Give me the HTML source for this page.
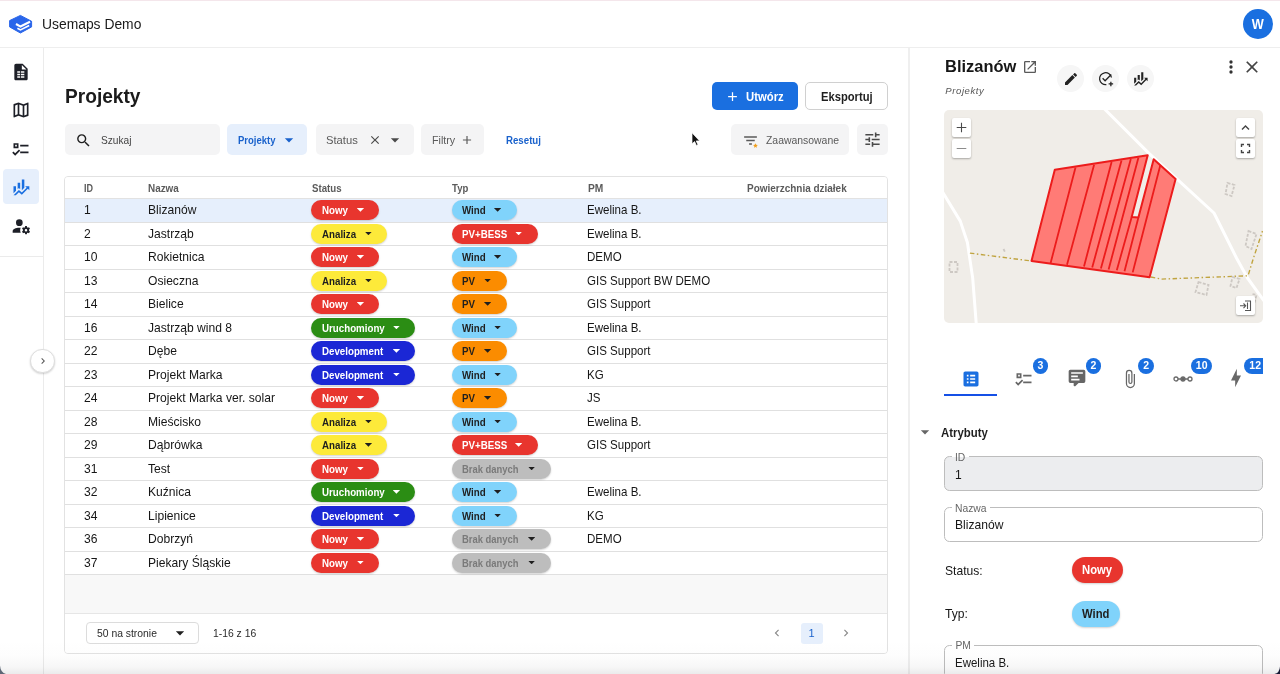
<!DOCTYPE html>
<html lang="pl">
<head>
<meta charset="utf-8">
<title>Usemaps Demo</title>
<style>
*{box-sizing:border-box;margin:0;padding:0}
html,body{width:1280px;height:674px;overflow:hidden;background:#fff}
body{font-family:"Liberation Sans",sans-serif;color:#1d1d1f;position:relative;font-size:13px}
.abs{position:absolute}
svg{display:block}
/* top bar */
#topline{left:0;top:0;width:1280px;height:1px;background:#f4e6eb}
#topbar{left:0;top:0;width:1280px;height:47.500px;border-bottom:1.500px solid #eeeeee;background:#fff}
#brand{left:41.800px;top:15px;font-size:14px;line-height:18px;color:#1a1a1a;white-space:nowrap;transform:scaleX(.99);transform-origin:0 0}
#avatar{left:1243px;top:8.900px;width:30.300px;height:30.300px;border-radius:50%;background:#1a6fe0;color:#fff;font-size:14.500px;font-weight:bold;line-height:30.300px;text-align:center}
#avatar em{font-style:normal;display:inline-block;transform:scaleX(.88)}
/* sidebar */
#side{left:0;top:48px;width:44px;height:626px;border-right:1px solid #ebebeb;background:#fff}
#sidediv{left:0;top:256px;width:44px;height:1px;background:#ebebeb}
#sideact{left:3px;top:169px;width:36px;height:35px;border-radius:4px;background:#e6effc}
.sic{left:11px;width:20px;height:20px}
#expand{left:30.400px;top:348.700px;width:24.600px;height:24.600px;border-radius:50%;background:#fff;border:1px solid #dedede;box-shadow:0 1px 2px rgba(0,0,0,.18)}
/* main */
#title{left:65px;top:84.300px;font-size:21px;line-height:24px;font-weight:bold;color:#1b1b1b;white-space:nowrap;transform:scaleX(.911);transform-origin:0 0}
.btn{top:82.300px;height:28px;border-radius:5px;font-size:12px;font-weight:bold;line-height:28px;white-space:nowrap}
#bcreate{left:712px;width:86px;background:#1a6fe0;color:#fff}
#bexport{left:805.300px;width:82.400px;background:#fff;border:1px solid #d0d0d0;color:#1f1f1f;line-height:26px}
.fchip{top:124px;height:31px;border-radius:5px;background:#f4f4f5;font-size:11px;line-height:31px;color:#5a5a5a;white-space:nowrap}
.fchip span{position:absolute;top:.5px;transform-origin:0 0}
.sx{transform-origin:0 0}
/* table */
#tbl{left:64px;top:176px;width:824px;height:478px;border:1px solid #e2e2e2;border-radius:4px;background:#f8f8f8;overflow:hidden}
#thead{left:0;top:0;width:822px;height:22px;background:#fff;border-bottom:1px solid #e2e2e2;font-size:11px;font-weight:bold;color:#5b5b5b;line-height:22px}
#thead span{position:absolute;top:0;white-space:nowrap;transform-origin:0 0}
.row{position:absolute;left:0;width:822px;height:23.500px;background:#fff;border-bottom:1px solid #e0e0e0;font-size:13px;line-height:23px;color:#161616}
.row.sel{background:#e6effc}
.row span{position:absolute;top:-.75px;white-space:nowrap;transform:scaleX(.93);transform-origin:0 0}
.c1{left:19px}.c2{left:83px}.row span.c5{left:522px;transform:scaleX(.888)}
.chip{position:absolute;top:1px;height:20px;border-radius:10px;font-size:11px;font-weight:bold;line-height:20px;padding-left:11px;white-space:nowrap;box-shadow:0 1px 2px rgba(0,0,0,.18)}
.chip em{font-style:normal;display:inline-block;transform:scaleX(.885);transform-origin:0 50%}
.chip i{position:absolute;right:14.900px;top:8px;width:7.400px;height:3.700px;background:currentColor;clip-path:polygon(0 0,100% 0,50% 100%)}
.s{left:246px}.t{left:387px;padding-left:10px}.t i{right:15.700px}
.nowy{background:#e8352e;color:#fff;width:68px}
.ana{background:#fdea3a;color:#1f1f1f;width:76px}
.uru{background:#2b8d14;color:#fff;width:104px}
.dev{background:#1b27d5;color:#fff;width:104px}
.wind{background:#80d3fb;color:#1f1f1f;width:65px}
.pvb{background:#e8352e;color:#fff;width:86px}
.pv{background:#fb8c00;color:#1f1f1f;width:55px}
.brak{background:#bdbdbd;color:#7a7a7a;width:99px}
.brak em{transform:scaleX(.856)}
.brak i{background:#1f1f1f}
.ft{font-size:11px;line-height:19px;white-space:nowrap;color:#2a2a2a;transform:scaleX(.942);transform-origin:0 0}
#tfoot{left:0;top:436px;width:822px;height:41px;background:#fff;border-top:1px solid #e6e6e6;font-size:11px;color:#333}
/* right panel */
#panel{left:908px;top:48px;width:372px;height:626px;background:#fff;border-left:2px solid #efefef}
#ptitle{left:945.300px;top:56.300px;font-size:17px;font-weight:bold;line-height:22px;color:#161616;white-space:nowrap;transform:scaleX(.968);transform-origin:0 0}
#psub{left:945.300px;top:84.300px;font-size:9.500px;font-style:italic;color:#555;line-height:14px;letter-spacing:.6px;white-space:nowrap}
.rbtn{top:65.300px;width:27px;height:27px;border-radius:50%;background:#f6f6f6}
#map{left:944px;top:110px;width:319px;height:212.500px;border-radius:5px;background:#f0ede8;overflow:hidden}
.mbtn{width:19px;height:19px;background:#fff;border-radius:2px;box-shadow:0 1px 2px rgba(0,0,0,.3)}
.badge{height:15.600px;min-width:15.600px;border-radius:8px;background:#1a6fe0;color:#fff;font-size:10.500px;font-weight:bold;line-height:15.600px;text-align:center;padding:0 4px}
.field{left:944.300px;width:319px;border:1px solid #bdbdbd;border-radius:5.500px}
.flabel{font-size:10.300px;color:#666;background:#fff;line-height:10px;padding:0 3.500px;white-space:nowrap}
.fval{font-size:13px;color:#161616;line-height:16px;white-space:nowrap;transform:scaleX(.93);transform-origin:0 0}
.pchip{height:26px;border-radius:13px;font-size:13px;font-weight:bold;line-height:26px;padding-left:10px;white-space:nowrap;box-shadow:0 1px 2px rgba(0,0,0,.18)}
.pchip em{font-style:normal;display:inline-block;transform:scaleX(.868);transform-origin:0 50%}
#fade{left:0;top:640px;width:1280px;height:34px;background:linear-gradient(to bottom,rgba(90,90,95,0) 0%,rgba(90,90,95,.012) 45%,rgba(90,90,95,.05) 80%,rgba(90,90,95,.12) 100%);pointer-events:none}
</style>
</head>
<body>
<div id="topbar" class="abs"></div>
<div id="topline" class="abs"></div>
<svg class="abs" style="left:4px;top:8px;width:40px;height:32px" viewBox="0 0 40 32"><path fill="#2a66ea" stroke="#2a66ea" stroke-width="1" stroke-linejoin="round" d="M16.400 7.400L27.600 13.300V18.900L16.400 25L5.600 18.900V12.600Z"/><path fill="none" stroke="#fff" stroke-width="2.200" d="M12 16L16.500 18.600L26 13.800"/><path fill="none" stroke="#fff" stroke-width="1.700" d="M13.400 20.200L16.500 21.900L25.200 17.600"/></svg>
<div id="brand" class="abs">Usemaps Demo</div>
<div id="avatar" class="abs"><em>W</em></div>
<div id="side" class="abs"></div>
<div id="sidediv" class="abs"></div>
<div id="sideact" class="abs"></div>
<div id="expand" class="abs"></div>

<svg class="abs sic" style="top:61.5px" viewBox="0 0 24 24"><path fill="#1d1f27" d="M14 2H6C4.89 2 4 2.9 4 4V20C4 21.11 4.89 22 6 22H18C19.11 22 20 21.11 20 20V8L14 2M11 19H7.5V17H11V19M11 16H7.5V14H11V16M11 13H7.5V11H11V13M16 19H12V17H16V19M16 16H12V14H16V16M16 13H12V11H16V13M13 9V3.5L18.5 9H13Z"/></svg>
<svg class="abs sic" style="top:100px" viewBox="0 0 24 24"><path fill="#1d1f27" d="M20.5 3l-.16.03L15 5.1 9 3 3.36 4.9c-.21.07-.36.25-.36.48V20.5c0 .28.22.5.5.5l.16-.03L9 18.9l6 2.1 5.64-1.900c.21-.07.36-.25.36-.48V3.500c0-.28-.22-.5-.5-.5zM10 5.470l4 1.400v11.660l-4-1.400V5.470zm-5 .99l3-1.010v11.700l-3 1.160V6.460zm14 11.080l-3 1.010V6.860l3-1.160v11.840z"/></svg>
<svg class="abs sic" style="top:138.500px;left:10.500px" viewBox="0 0 24 24"><path fill="#1d1f27" d="M3,5H9V11H3V5M5,7V9H7V7H5M11,7H21V9H11V7M11,15H21V17H11V15M5,20L1.500,16.500L2.910,15.090L5,17.170L9.590,12.590L11,14L5,20Z"/></svg>
<svg class="abs sic" style="top:177px" viewBox="0 0 24 24"><path fill="#1a6fe0" d="M6,16.500L3,19.440V11H6M11,14.660L9.430,13.320L8,14.640V7H11M16,13L13,16V3H16M18.810,12.810L17,11H22V16L20.210,14.210L13,21.360L9.530,18.340L5.750,22H3L9.470,15.660L13,18.640"/></svg>
<svg class="abs sic" style="top:216px" viewBox="0 0 24 24"><g fill="#1d1f27"><circle cx="10" cy="8" r="4"/><path d="M10 14C5.580 14 2 15.790 2 18V20H11.680A7 7 0 0 1 11 17A7 7 0 0 1 11.640 14.090C11.110 14.030 10.560 14 10 14Z"/><path fill-rule="evenodd" d="M17 12h2l.3 1.550 1 .450 1.300-.6 1.200 1.900-1.100.95v1.500l1.100.95-1.200 1.900-1.300-.6-1 .450L19 22h-2l-.3-1.550-1-.450-1.300.6-1.200-1.900 1.100-.95v-1.500l-1.100-.95 1.200-1.900 1.300.6 1-.450zM18 15.500a1.500 1.500 0 1 0 0 3 1.500 1.500 0 0 0 0-3z"/></g></svg>
<svg class="abs" style="left:36.500px;top:355px;width:12px;height:12px" viewBox="0 0 24 24"><path fill="#555" d="M8.590,16.580L13.170,12L8.590,7.410L10,6L16,12L10,18L8.590,16.580Z"/></svg>

<div id="title" class="abs">Projekty</div>
<div id="bcreate" class="abs btn"><span class="abs sx" style="left:34.300px;top:.8px;transform:scaleX(.9425)">Utwórz</span></div>
<div id="bexport" class="abs btn"><span class="abs sx" style="left:15.200px;top:.8px;transform:scaleX(.933)">Eksportuj</span></div>

<div class="abs fchip" style="left:65px;width:154.700px"><span style="left:36.250px;color:#444;transform:scaleX(.924)">Szukaj</span></div>
<div class="abs fchip" style="left:227.200px;width:80px;background:#e6effc;color:#1a62cc;font-weight:bold"><span style="left:10.500px;transform:scaleX(.864)">Projekty</span></div>
<div class="abs fchip" style="left:315.500px;width:98.700px"><span style="left:10.300px;transform:scaleX(1.02)">Status</span></div>
<div class="abs fchip" style="left:421px;width:63px"><span style="left:10.500px;transform:scaleX(.975)">Filtry</span></div>
<div class="abs sx" style="left:506px;top:124.500px;font-size:11px;line-height:31px;color:#1a62cc;font-weight:bold;transform:scaleX(.88)">Resetuj</div>
<div class="abs fchip" style="left:731px;width:118px"><span style="left:35.200px;transform:scaleX(.947)">Zaawansowane</span></div>
<div class="abs fchip" style="left:857px;width:30.600px"></div>


<svg class="abs" style="left:74.500px;top:131.500px;width:17px;height:17px" viewBox="0 0 24 24"><path fill="#1f1f1f" d="M9.500,3A6.500,6.500 0 0,1 16,9.500C16,11.110 15.410,12.590 14.440,13.730L14.710,14H15.500L20.500,19L19,20.500L14,15.500V14.710L13.730,14.440C12.590,15.410 11.110,16 9.500,16A6.500,6.500 0 0,1 3,9.500A6.500,6.500 0 0,1 9.500,3M9.500,5C7,5 5,7 5,9.500C5,12 7,14 9.500,14C12,14 14,12 14,9.500C14,7 12,5 9.500,5Z"/></svg>
<svg class="abs" style="left:279px;top:129.500px;width:20px;height:20px" viewBox="0 0 24 24"><path fill="#1a62cc" d="M7,10L12,15L17,10H7Z"/></svg>
<svg class="abs" style="left:368px;top:132.500px;width:14px;height:14px" viewBox="0 0 24 24"><path fill="#4a4a4a" d="M19,6.410L17.590,5L12,10.590L6.410,5L5,6.410L10.590,12L5,17.590L6.410,19L12,13.410L17.590,19L19,17.590L13.410,12L19,6.410Z"/></svg>
<svg class="abs" style="left:385px;top:129.500px;width:20px;height:20px" viewBox="0 0 24 24"><path fill="#4a4a4a" d="M7,10L12,15L17,10H7Z"/></svg>
<svg class="abs" style="left:459.500px;top:132.500px;width:14px;height:14px" viewBox="0 0 24 24"><path fill="#5a5a5a" d="M19,13H13V19H11V13H5V11H11V5H13V11H19V13Z"/></svg>
<svg class="abs" style="left:741.500px;top:131.500px;width:17px;height:17px" viewBox="0 0 24 24"><path fill="#5a5a5a" d="M6,13H18V11H6M3,6V8H21V6M10,18H14V16H10V18Z"/><path fill="#f0a020" d="M19 16l1 2.100 2.300.3-1.700 1.600.4 2.300L19 21.200l-2 1.100.4-2.300-1.700-1.600 2.300-.3z"/></svg>
<svg class="abs" style="left:862.500px;top:130px;width:19px;height:19px" viewBox="0 0 24 24"><path fill="#4a4a4a" d="M3,17V19H9V17H3M3,5V7H13V5H3M13,21V19H21V17H13V15H11V21H13M7,9V11H3V13H7V15H9V9H7M21,13V11H11V13H21M15,9H17V7H21V5H17V3H15V9Z"/></svg>
<svg class="abs" style="left:725px;top:89px;width:15px;height:15px" viewBox="0 0 24 24"><path fill="#fff" d="M19,13H13V19H11V13H5V11H11V5H13V11H19V13Z"/></svg>
<svg class="abs" style="left:691px;top:132px;width:10px;height:15px" viewBox="0 0 10 15"><path fill="#111" stroke="#fff" stroke-width=".7" d="M1 .8v11l2.600-2.300 1.800 4 1.600-.7-1.800-3.900h3.400z"/></svg>
<div id="tbl" class="abs">
 <div id="thead" class="abs"><span style="left:18.750px;transform:scaleX(.82)">ID</span><span style="left:83.250px;transform:scaleX(.9)">Nazwa</span><span style="left:246.750px;transform:scaleX(.88)">Status</span><span style="left:387px;transform:scaleX(.87)">Typ</span><span style="left:522.500px;transform:scaleX(.93)">PM</span><span style="left:681.600px;transform:scaleX(.906)">Powierzchnia działek</span></div>
 <div id="rows">
 <div class="row sel" style="top:22px"><span class="c1">1</span><span class="c2">Blizanów</span><b class="chip s nowy"><em>Nowy</em><i></i></b><b class="chip t wind"><em>Wind</em><i></i></b><span class="c5">Ewelina B.</span></div>
 <div class="row" style="top:45.5px"><span class="c1">2</span><span class="c2">Jastrząb</span><b class="chip s ana"><em>Analiza</em><i></i></b><b class="chip t pvb"><em>PV+BESS</em><i></i></b><span class="c5">Ewelina B.</span></div>
 <div class="row" style="top:69px"><span class="c1">10</span><span class="c2">Rokietnica</span><b class="chip s nowy"><em>Nowy</em><i></i></b><b class="chip t wind"><em>Wind</em><i></i></b><span class="c5">DEMO</span></div>
 <div class="row" style="top:92.5px"><span class="c1">13</span><span class="c2">Osieczna</span><b class="chip s ana"><em>Analiza</em><i></i></b><b class="chip t pv"><em>PV</em><i></i></b><span class="c5">GIS Support BW DEMO</span></div>
 <div class="row" style="top:116px"><span class="c1">14</span><span class="c2">Bielice</span><b class="chip s nowy"><em>Nowy</em><i></i></b><b class="chip t pv"><em>PV</em><i></i></b><span class="c5">GIS Support</span></div>
 <div class="row" style="top:139.5px"><span class="c1">16</span><span class="c2">Jastrząb wind 8</span><b class="chip s uru"><em>Uruchomiony</em><i></i></b><b class="chip t wind"><em>Wind</em><i></i></b><span class="c5">Ewelina B.</span></div>
 <div class="row" style="top:163px"><span class="c1">22</span><span class="c2">Dębe</span><b class="chip s dev"><em>Development</em><i></i></b><b class="chip t pv"><em>PV</em><i></i></b><span class="c5">GIS Support</span></div>
 <div class="row" style="top:186.5px"><span class="c1">23</span><span class="c2">Projekt Marka</span><b class="chip s dev"><em>Development</em><i></i></b><b class="chip t wind"><em>Wind</em><i></i></b><span class="c5">KG</span></div>
 <div class="row" style="top:210px"><span class="c1">24</span><span class="c2">Projekt Marka ver. solar</span><b class="chip s nowy"><em>Nowy</em><i></i></b><b class="chip t pv"><em>PV</em><i></i></b><span class="c5">JS</span></div>
 <div class="row" style="top:233.5px"><span class="c1">28</span><span class="c2">Mieścisko</span><b class="chip s ana"><em>Analiza</em><i></i></b><b class="chip t wind"><em>Wind</em><i></i></b><span class="c5">Ewelina B.</span></div>
 <div class="row" style="top:257px"><span class="c1">29</span><span class="c2">Dąbrówka</span><b class="chip s ana"><em>Analiza</em><i></i></b><b class="chip t pvb"><em>PV+BESS</em><i></i></b><span class="c5">GIS Support</span></div>
 <div class="row" style="top:280.5px"><span class="c1">31</span><span class="c2">Test</span><b class="chip s nowy"><em>Nowy</em><i></i></b><b class="chip t brak"><em>Brak danych</em><i></i></b><span class="c5"></span></div>
 <div class="row" style="top:304px"><span class="c1">32</span><span class="c2">Kuźnica</span><b class="chip s uru"><em>Uruchomiony</em><i></i></b><b class="chip t wind"><em>Wind</em><i></i></b><span class="c5">Ewelina B.</span></div>
 <div class="row" style="top:327.5px"><span class="c1">34</span><span class="c2">Lipienice</span><b class="chip s dev"><em>Development</em><i></i></b><b class="chip t wind"><em>Wind</em><i></i></b><span class="c5">KG</span></div>
 <div class="row" style="top:351px"><span class="c1">36</span><span class="c2">Dobrzyń</span><b class="chip s nowy"><em>Nowy</em><i></i></b><b class="chip t brak"><em>Brak danych</em><i></i></b><span class="c5">DEMO</span></div>
 <div class="row" style="top:374.5px"><span class="c1">37</span><span class="c2">Piekary Śląskie</span><b class="chip s nowy"><em>Nowy</em><i></i></b><b class="chip t brak"><em>Brak danych</em><i></i></b><span class="c5"></span></div>
 </div>
 <div id="tfoot" class="abs">
<div class="abs" style="left:21px;top:8.400px;width:113px;height:21.300px;border:1px solid #dcdcdc;border-radius:4px"></div>
<span class="abs ft" style="left:32px;top:10px">50 na stronie</span>
<svg class="abs" style="left:105px;top:9px;width:20px;height:20px" viewBox="0 0 24 24"><path fill="#1f1f1f" d="M7,10L12,15L17,10H7Z"/></svg>
<span class="abs ft" style="left:148px;top:10px">1-16 z 16</span>
<svg class="abs" style="left:705px;top:12px;width:14px;height:14px" viewBox="0 0 24 24"><path fill="#8a8a8a" d="M15.410,16.580L10.830,12L15.410,7.410L14,6L8,12L14,18L15.410,16.580Z"/></svg>
<div class="abs" style="left:735.500px;top:9px;width:22px;height:21px;border-radius:3px;background:#e6effc;color:#1a62cc;font-size:11px;line-height:21px;text-align:center">1</div>
<svg class="abs" style="left:774px;top:12px;width:14px;height:14px" viewBox="0 0 24 24"><path fill="#8a8a8a" d="M8.590,16.580L13.170,12L8.590,7.410L10,6L16,12L10,18L8.590,16.580Z"/></svg>
</div>
</div>

<div id="panel" class="abs"></div>
<div id="ptitle" class="abs">Blizanów</div>
<div id="psub" class="abs">Projekty</div>
<div id="map" class="abs"><svg width="319" height="213" viewBox="-.5 0 319 213">
<g fill="none" stroke="#fff" stroke-width="3" stroke-linecap="round" stroke-linejoin="round"><polyline points="160,-1 204.500,43.400 269.500,103 292,148 303,168 320.300,192"/><polyline points="-2,81.900 15.800,111.100 22.900,132.500 28.200,168.100 31.800,214.400"/></g>
<g fill="none" stroke="#c0a440" stroke-width="1.400" stroke-dasharray="4.500 2.500 1.500 2.500"><polyline points="25.400,143.100 87,151"/><polyline points="206.300,167 217,169.100 303.500,165.800 309,148 318,121"/></g>
<g fill="none" stroke="#cdc8c3" stroke-width="1.800" stroke-dasharray="3 1.500"><path d="M283 73l7 2-3 11-6-2z"/><path d="M304 121l8 3-5 15-6-3z"/><path d="M254 172l10 3-2 10-11-3z"/><path d="M288 167l7 2-3 9-6-2z"/><path d="M5 152h8v10H5z"/><path d="M59 139l2 4"/><path d="M308 184l4 1-2 8"/></g>
<polygon points="110.3,59.7 203.2,45.2 187.2,107 193.9,107.6 209.2,49.3 231.1,69 205.1,167.3 87.0,150.9" fill="#ff7b76" stroke="#ec1c1c" stroke-width="2" stroke-linejoin="round"/>
<path fill="none" stroke="#ec1c1c" stroke-width="1.800" d="M131.0 57.5L106.1 153.1M149.6 54.8L122.5 154.8M167.1 52L139.5 156.4M177.0 50.6L147.7 157.5M186.3 49L156.4 158.6M193.9 47.7L164.1 159.4M187.2 107L172.3 160.2M193.9 107.6L180.0 161.3M215.8 55.3L188.2 162.4"/>
</svg>
<div class="abs mbtn" style="left:8px;top:8px"><svg width="19" height="19" viewBox="0 0 19 19"><path stroke="#4a4a4a" stroke-width="1.100" d="M4.700 9.500h9.600M9.500 4.700v9.600"/></svg></div>
<div class="abs mbtn" style="left:8px;top:29px"><svg width="19" height="19" viewBox="0 0 19 19"><path stroke="#8c8c8c" stroke-width="1.100" d="M4.700 9.500h9.600"/></svg></div>
<div class="abs mbtn" style="left:291.500px;top:8px"><svg width="19" height="19" viewBox="0 0 19 19"><path fill="none" stroke="#444" stroke-width="1.400" d="M6 11.500l3.500-3.500 3.500 3.500"/></svg></div>
<div class="abs mbtn" style="left:291.500px;top:29px"><svg width="19" height="19" viewBox="0 0 19 19"><path fill="none" stroke="#444" stroke-width="1.400" d="M5.500 8v-2.500h2.500M11 5.500h2.500V8M13.500 11v2.500H11M8 13.500H5.500V11"/></svg></div>
<div class="abs mbtn" style="left:291.500px;top:186px"><svg width="19" height="19" viewBox="0 0 19 19"><path fill="none" stroke="#555" stroke-width="1.100" d="M9 5h5.500v9.500H9M11.500 6.500v6.500M4 9.800h5.500M7.500 7.500l2.200 2.300-2.200 2.300"/></svg></div>
</div>

<svg class="abs" style="left:1022px;top:59px;width:16px;height:16px" viewBox="0 0 24 24"><path fill="#5a5a5a" d="M14,3V5H17.590L7.760,14.830L9.170,16.240L19,6.410V10H21V3M19,19H5V5H12V3H5C3.890,3 3,3.900 3,5V19A2,2 0 0,0 5,21H19A2,2 0 0,0 21,19V12H19V19Z"/></svg>
<div class="abs rbtn" style="left:1057.200px"></div><div class="abs rbtn" style="left:1092px"></div><div class="abs rbtn" style="left:1126.500px"></div>
<svg class="abs" style="left:1062.500px;top:70.500px;width:16px;height:16px" viewBox="0 0 24 24"><path fill="#222" d="M20.710,7.040C21.100,6.650 21.100,6 20.710,5.630L18.370,3.290C18,2.900 17.350,2.900 16.960,3.290L15.120,5.120L18.870,8.870M3,17.250V21H6.750L17.810,9.930L14.060,6.180L3,17.250Z"/></svg>
<svg class="abs" style="left:1096.500px;top:70px;width:18px;height:18px" viewBox="0 0 24 24"><g fill="none" stroke="#222" stroke-width="1.700"><path d="M19.300 10A8 8 0 1 0 12.500 19.500"/><path d="M7.500 11l3.300 3.300L19 6"/><path d="M18.500 15.500v6M15.500 18.500h6"/></g></svg>
<svg class="abs" style="left:1131.500px;top:70px;width:17px;height:17px" viewBox="0 0 24 24"><path fill="#222" d="M6,16.500L3,19.440V11H6M11,14.660L9.430,13.320L8,14.640V7H11M16,13L13,16V3H16M18.810,12.810L17,11H22V16L20.210,14.210L13,21.360L9.530,18.340L5.750,22H3L9.470,15.660L13,18.640"/></svg>
<svg class="abs" style="left:1221px;top:57px;width:20px;height:20px" viewBox="0 0 24 24"><path fill="#333" d="M12,16A2,2 0 0,1 14,18A2,2 0 0,1 12,20A2,2 0 0,1 10,18A2,2 0 0,1 12,16M12,10A2,2 0 0,1 14,12A2,2 0 0,1 12,14A2,2 0 0,1 10,12A2,2 0 0,1 12,10M12,4A2,2 0 0,1 14,6A2,2 0 0,1 12,8A2,2 0 0,1 10,6A2,2 0 0,1 12,4Z"/></svg>
<svg class="abs" style="left:1242px;top:57px;width:20px;height:20px" viewBox="0 0 24 24"><path fill="#444" d="M19,6.410L17.590,5L12,10.590L6.410,5L5,6.410L10.590,12L5,17.590L6.410,19L12,13.410L17.590,19L19,17.590L13.410,12L19,6.410Z"/></svg>

<svg class="abs" style="left:961px;top:368.500px;width:20px;height:20px" viewBox="0 0 24 24"><path fill="#1a6fe0" d="M19 3H5C3.900 3 3 3.900 3 5V19C3 20.100 3.900 21 5 21H19C20.100 21 21 20.100 21 19V5C21 3.900 20.100 3 19 3M7 7H9V9H7V7M7 11H9V13H7V11M7 15H9V17H7V15M17 17H11V15H17V17M17 13H11V11H17V13M17 9H11V7H17V9Z"/></svg>
<div class="abs" style="left:944px;top:394px;width:53px;height:2px;background:#1550e6"></div>
<svg class="abs" style="left:1013.500px;top:369px;width:20px;height:20px" viewBox="0 0 24 24"><path fill="#666" d="M3,5H9V11H3V5M5,7V9H7V7H5M11,7H21V9H11V7M11,15H21V17H11V15M5,20L1.500,16.500L2.910,15.090L5,17.170L9.590,12.590L11,14L5,20Z"/></svg>
<svg class="abs" style="left:1066.800px;top:368.400px;width:20px;height:20px" viewBox="0 0 24 24"><path fill="#666" d="M9,22A1,1 0 0,1 8,21V18H4A2,2 0 0,1 2,16V4C2,2.890 2.900,2 4,2H20A2,2 0 0,1 22,4V16A2,2 0 0,1 20,18H13.900L10.200,21.710C10,21.900 9.750,22 9.500,22V22H9M5,5V7H19V5H5M5,9V11H13V9H5M5,13V15H15V13H5Z"/></svg>
<svg class="abs" style="left:1119.600px;top:368.600px;width:20px;height:20px" viewBox="0 0 24 24"><path fill="#666" d="M16.500,6V17.500A4,4 0 0,1 12.500,21.500A4,4 0 0,1 8.500,17.500V5A2.500,2.500 0 0,1 11,2.500A2.500,2.500 0 0,1 13.500,5V15.500A1,1 0 0,1 12.500,16.500A1,1 0 0,1 11.500,15.500V6H10V15.500A2.500,2.500 0 0,0 12.500,18A2.500,2.500 0 0,0 15,15.500V5A4,4 0 0,0 11,1A4,4 0 0,0 7,5V17.500A5.500,5.500 0 0,0 12.500,23A5.500,5.500 0 0,0 18,17.500V6H16.500Z"/></svg>
<svg class="abs" style="left:1173px;top:373.600px;width:20px;height:10px" viewBox="0 0 20 10"><g fill="none" stroke="#6a6a6a" stroke-width="1.300"><circle cx="3" cy="5" r="2"/><circle cx="10" cy="5" r="2" fill="#666"/><circle cx="17" cy="5" r="2"/><path d="M5 5h3M12 5h3"/></g></svg>
<svg class="abs" style="left:1226.400px;top:368px;width:20px;height:20px" viewBox="0 0 24 24"><path fill="#686868" d="M11,15H6L13,1V9H18L11,23V15Z"/></svg>
<div class="abs badge" style="left:1032.600px;top:358.200px">3</div>
<div class="abs badge" style="left:1085.500px;top:358.200px">2</div>
<div class="abs badge" style="left:1138.300px;top:358px">2</div>
<div class="abs badge" style="left:1191px;top:358px;width:21.300px">10</div>
<div class="abs badge" style="left:1244.300px;top:358px;width:18.800px;border-radius:8px 0 0 8px;text-align:left;padding-left:5px">12</div>

<svg class="abs" style="left:915px;top:422px;width:20px;height:20px" viewBox="0 0 24 24"><path fill="#666" d="M7,10L12,15L17,10H7Z"/></svg>
<div class="abs" id="attr" style="left:941.200px;top:424.900px;font-size:13px;line-height:16px;font-weight:bold;color:#1f1f1f;white-space:nowrap;transform:scaleX(.876);transform-origin:0 0">Atrybuty</div>
<div class="abs field" style="top:456px;height:34.700px;background:#ecedef"></div>
<div class="abs flabel" style="left:951.500px;top:453px;background:linear-gradient(#fff 40%,#ecedef 40%)">ID</div>
<div class="abs fval" style="left:955px;top:467px">1</div>
<div class="abs field" style="top:507.200px;height:35.200px"></div>
<div class="abs flabel" style="left:951.500px;top:503.500px">Nazwa</div>
<div class="abs fval" style="left:955px;top:516.500px">Blizanów</div>
<div class="abs fval" style="left:944.500px;top:562.500px">Status:</div>
<div class="abs pchip" style="left:1072px;top:557px;width:50.800px;background:#e8352e;color:#fff"><em>Nowy</em></div>
<div class="abs fval" style="left:944.500px;top:606px">Typ:</div>
<div class="abs pchip" style="left:1072px;top:601px;width:48px;background:#80d3fb;color:#1f1f1f"><em>Wind</em></div>
<div class="abs field" style="top:644.500px;height:34px"></div>
<div class="abs flabel" style="left:951.900px;top:641px">PM</div>
<div class="abs fval" style="left:955.400px;top:655px;transform:scaleX(.884)">Ewelina B.</div>
<div id="fade" class="abs"></div>
<svg class="abs" style="left:0;top:654px;width:1280px;height:20px" viewBox="0 0 1280 20"><path fill="#5d6675" d="M0 20V11.500Q.5 18.500 6 20Z"/><path fill="#161a36" d="M1280 20V12.500Q1279.500 19 1274.500 20Z"/></svg>
</body>
</html>
